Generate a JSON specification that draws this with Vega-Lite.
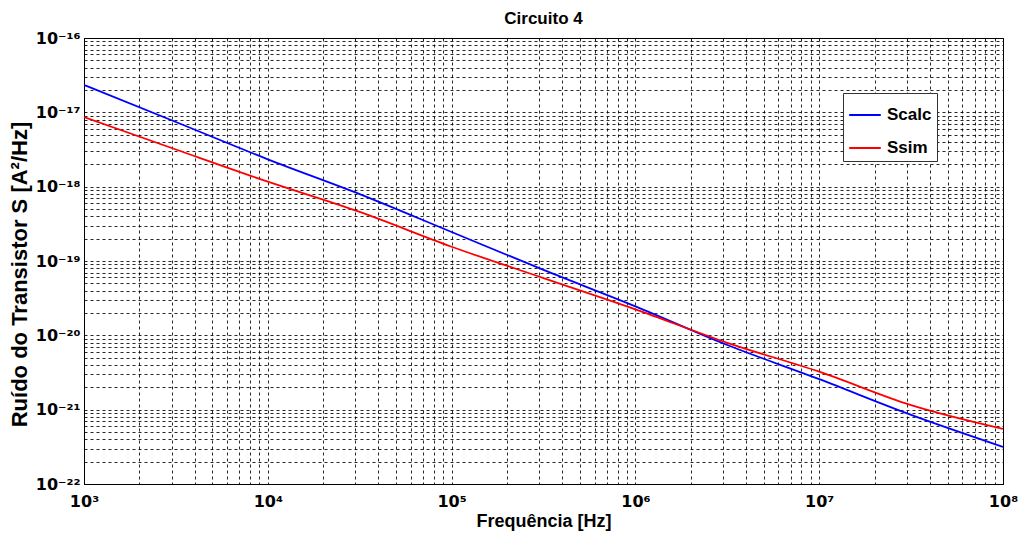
{
  "$schema": "https://vega.github.io/schema/vega-lite/v6.json",
  "width": 919,
  "height": 446,
  "autosize": {"type": "none"},
  "padding": {"left": 84, "top": 38, "right": 21, "bottom": 58},
  "background": "white",
  "title": {"text": "Circuito 4", "font": "Liberation Sans", "fontSize": 17, "fontWeight": "bold", "color": "black", "offset": 2},
  "config": {
    "view": {"stroke": "black", "strokeWidth": 1},
    "axis": {
      "labelFont": "DejaVu Sans", "labelFontWeight": "bold", "labelFontSize": 16, "labelColor": "black",
      "titleFont": "Liberation Sans", "titleFontWeight": "bold", "titleFontSize": 18, "titleColor": "black",
      "domainColor": "black", "grid": true, "gridColor": "black", "gridDash": [3, 3], "gridOpacity": 0.85, "gridWidth": 1,
      "ticks": false, "labelOverlap": false, "labelFlush": false
    }
  },
  "data": {"values": [
    {"series": "Scalc", "f": 1000, "s": 2.333e-17},
    {"series": "Scalc", "f": 3162.3, "s": 7.41e-18},
    {"series": "Scalc", "f": 10000, "s": 2.333e-18},
    {"series": "Scalc", "f": 31623, "s": 7.94e-19},
    {"series": "Scalc", "f": 100000, "s": 2.455e-19},
    {"series": "Scalc", "f": 316228, "s": 7.59e-20},
    {"series": "Scalc", "f": 1000000, "s": 2.455e-20},
    {"series": "Scalc", "f": 3162278, "s": 7.41e-21},
    {"series": "Scalc", "f": 10000000, "s": 2.57e-21},
    {"series": "Scalc", "f": 31622777, "s": 8.51e-22},
    {"series": "Scalc", "f": 100000000, "s": 3.16e-22},
    {"series": "Ssim", "f": 1000, "s": 8.65e-18},
    {"series": "Ssim", "f": 3162.3, "s": 3.16e-18},
    {"series": "Ssim", "f": 10000, "s": 1.167e-18},
    {"series": "Ssim", "f": 31623, "s": 4.57e-19},
    {"series": "Ssim", "f": 100000, "s": 1.556e-19},
    {"series": "Ssim", "f": 316228, "s": 5.89e-20},
    {"series": "Ssim", "f": 1000000, "s": 2.24e-20},
    {"series": "Ssim", "f": 3162278, "s": 7.94e-21},
    {"series": "Ssim", "f": 10000000, "s": 3.24e-21},
    {"series": "Ssim", "f": 31622777, "s": 1.148e-21},
    {"series": "Ssim", "f": 100000000, "s": 5.5e-22}
  ]},
  "mark": {"type": "line", "strokeWidth": 1.8, "clip": true, "interpolate": "monotone"},
  "encoding": {
    "x": {
      "field": "f", "type": "quantitative",
      "scale": {"type": "log", "domain": [1000, 100000000], "nice": false},
      "axis": {
        "title": "Frequência [Hz]", "titlePadding": 3, "labelPadding": 9,
        "values": [1000,2000,3000,4000,5000,6000,7000,8000,9000,10000,20000,30000,40000,50000,60000,70000,80000,90000,100000,200000,300000,400000,500000,600000,700000,800000,900000,1000000,2000000,3000000,4000000,5000000,6000000,7000000,8000000,9000000,10000000,20000000,30000000,40000000,50000000,60000000,70000000,80000000,90000000,100000000],
        "labelExpr": "abs(datum.value/pow(10, round(log(datum.value)/LN10)) - 1) < 0.001 ? ['10³','10⁴','10⁵','10⁶','10⁷','10⁸'][round(log(datum.value)/LN10) - 3] : ''"
      }
    },
    "y": {
      "field": "s", "type": "quantitative",
      "scale": {"type": "log", "domain": [1e-22, 1e-16], "nice": false},
      "axis": {
        "title": "Ruído do Transistor S [A²/Hz]", "titleFontSize": 22, "titlePadding": 4, "labelPadding": 4, "titleY": 236,
        "values": [1e-22,2e-22,3e-22,4e-22,5e-22,6e-22,7e-22,8e-22,9e-22,1e-21,2e-21,3e-21,4e-21,5e-21,6e-21,7e-21,8e-21,9e-21,1e-20,2e-20,3e-20,4e-20,5e-20,6e-20,7e-20,8e-20,9e-20,1e-19,2e-19,3e-19,4e-19,5e-19,6e-19,7e-19,8e-19,9e-19,1e-18,2e-18,3e-18,4e-18,5e-18,6e-18,7e-18,8e-18,9e-18,1e-17,2e-17,3e-17,4e-17,5e-17,6e-17,7e-17,8e-17,9e-17,1e-16],
        "labelExpr": "abs(datum.value/pow(10, round(log(datum.value)/LN10)) - 1) < 0.001 ? ['10⁻²²','10⁻²¹','10⁻²⁰','10⁻¹⁹','10⁻¹⁸','10⁻¹⁷','10⁻¹⁶'][round(log(datum.value)/LN10) + 22] : ''"
      }
    },
    "color": {
      "field": "series", "type": "nominal",
      "scale": {"domain": ["Scalc", "Ssim"], "range": ["#0000FF", "#FF0000"]},
      "legend": {
        "title": null, "orient": "none", "legendX": 759, "legendY": 55,
        "fillColor": "white", "strokeColor": "#333", "padding": 5,
        "symbolType": "stroke", "symbolSize": 1000, "symbolStrokeWidth": 2,
        "labelFont": "Liberation Sans", "labelFontWeight": "bold", "labelFontSize": 17, "labelColor": "black",
        "rowPadding": 8, "labelOffset": 5
      }
    }
  }
}
